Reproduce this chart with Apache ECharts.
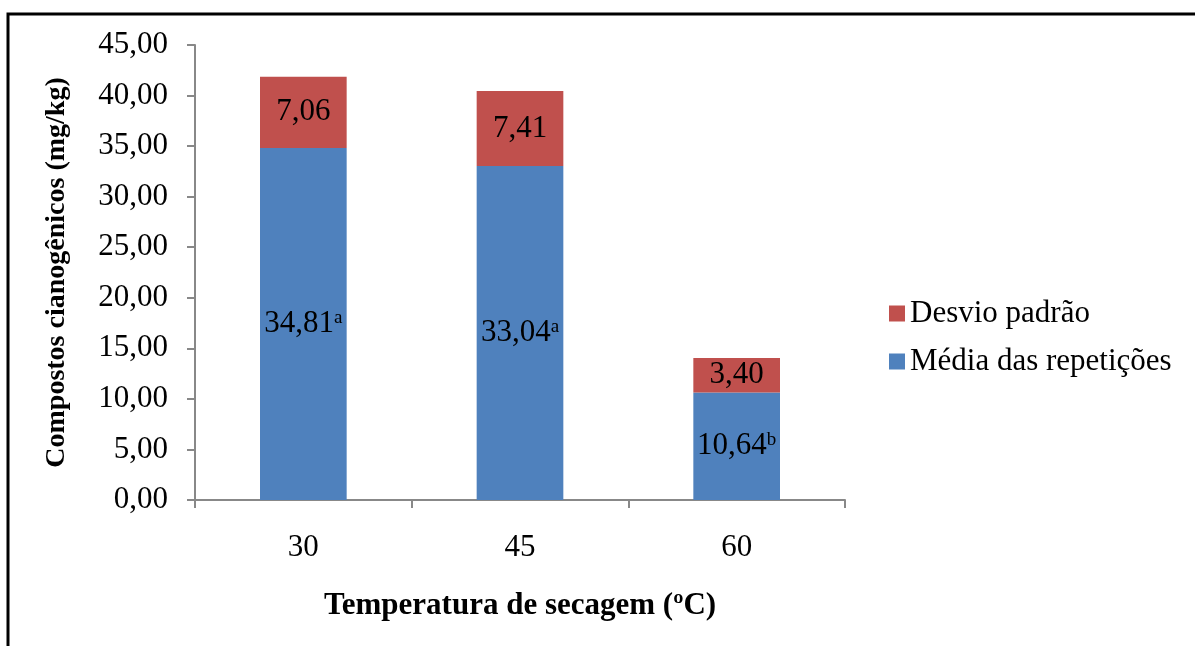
<!DOCTYPE html>
<html><head><meta charset="utf-8">
<script src="https://cdn.jsdelivr.net/npm/echarts@6/dist/echarts.min.js"></script>
<style>html,body{margin:0;padding:0;background:#fff}#c{width:1195px;height:646px}</style>
</head><body><div id="c"></div>
<script>
var categories = ['30', '45', '60'];
var mediaValues = [34.81, 33.04, 10.64];
var mediaLetters = ['a', 'a', 'b'];
var desvioValues = [7.06, 7.41, 3.40];
var yTicks = [0, 5, 10, 15, 20, 25, 30, 35, 40, 45];

function fmt(v) { return v.toFixed(2).replace('.', ','); }
var serif = '"Liberation Serif", "DejaVu Serif", serif';

var chart = echarts.init(document.getElementById('c'));
chart.setOption({
  animation: false,
  textStyle: { fontFamily: serif },
  graphic: [{
    type: 'rect', shape: { x: 8, y: 14, width: 1200, height: 650 },
    style: { fill: 'none', stroke: '#000', lineWidth: 3 }, silent: true, z: 100
  }],
  legend: {
    orient: 'vertical', left: 884, top: 293, itemWidth: 16, itemHeight: 16, itemGap: 17,
    icon: 'rect',
    data: ['Desvio padrão', 'Média das repetições'],
    textStyle: { fontFamily: serif, fontSize: 31, color: '#000' }
  },
  grid: { left: 195, top: 45, right: 350, bottom: 146, containLabel: false },
  xAxis: {
    type: 'category', data: categories,
    name: 'Temperatura de secagem (ºC)', nameLocation: 'middle', nameGap: 90,
    nameTextStyle: { fontFamily: serif, fontSize: 31, fontWeight: 'bold', color: '#000' },
    axisLine: { lineStyle: { color: '#888', width: 2 } },
    axisTick: { show: true, length: 8, lineStyle: { color: '#888', width: 2 } },
    axisLabel: { fontFamily: serif, fontSize: 31, color: '#000', margin: 32 }
  },
  yAxis: {
    type: 'value', min: 0, max: 45, interval: 5,
    name: 'Compostos cianogênicos (mg/kg)', nameLocation: 'middle', nameGap: 124,
    nameTextStyle: { fontFamily: serif, fontSize: 28, fontWeight: 'bold', color: '#000' },
    axisLine: { show: true, lineStyle: { color: '#888', width: 2 } },
    axisTick: { show: true, length: 8, lineStyle: { color: '#888', width: 2 } },
    splitLine: { show: false },
    axisLabel: { fontFamily: serif, fontSize: 31, color: '#000', margin: 27,
      formatter: function (v) { return fmt(v); } }
  },
  series: [{
    name: 'Média das repetições', type: 'bar', stack: 's', barWidth: '40%',
    itemStyle: { color: '#4f81bd' },
    data: mediaValues,
    label: {
      show: true, position: 'inside',
      formatter: function (p) { return '{v|' + fmt(p.value) + '}{s|' + mediaLetters[p.dataIndex] + '}'; },
      rich: {
        v: { fontFamily: serif, fontSize: 31, color: '#000' },
        s: { fontFamily: serif, fontSize: 19, color: '#000', verticalAlign: 'top', padding: [0, 0, 12, 0] }
      }
    }
  }, {
    name: 'Desvio padrão', type: 'bar', stack: 's', barWidth: '40%',
    itemStyle: { color: '#c0504d' },
    data: desvioValues,
    label: {
      show: true, position: 'inside', fontFamily: serif, fontSize: 31, color: '#000',
      formatter: function (p) { return fmt(p.value); }
    }
  }]
});
</script></body></html>
